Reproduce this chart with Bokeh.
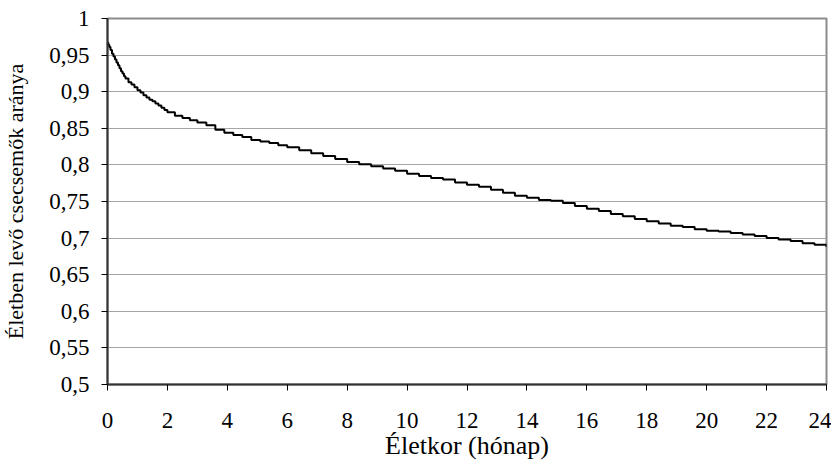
from bokeh.plotting import figure
from bokeh.models import Range1d, FixedTicker
from bokeh.embed import file_html
from bokeh.resources import INLINE

# Survival curve (months, proportion alive)
months = [0, 0.03, 0.06, 0.1, 0.15, 0.2, 0.25, 0.3, 0.35, 0.4, 0.45, 0.5, 0.55, 0.6,
          0.7, 0.8, 0.9, 1.0, 1.1, 1.2, 1.3, 1.4, 1.5, 1.6, 1.7, 1.8, 1.9,
          2.0, 2.25, 2.5, 2.75, 3.0, 3.3, 3.6, 3.9, 4.2, 4.5, 4.8, 5.1, 5.4, 5.7,
          6.0, 6.4, 6.8, 7.2, 7.6, 8.0, 8.4, 8.8, 9.2, 9.6, 10.0, 10.4, 10.8, 11.2,
          11.6, 12.0, 12.4, 12.8, 13.2, 13.6, 14.0, 14.4, 14.8, 15.2, 15.6, 16.0,
          16.4, 16.8, 17.2, 17.6, 18.0, 18.4, 18.8, 19.2, 19.6, 20.0, 20.4, 20.8,
          21.2, 21.6, 22.0, 22.4, 22.8, 23.2, 23.6, 24.0]
survival = [0.967, 0.964, 0.961, 0.957, 0.952, 0.948, 0.944, 0.940, 0.936, 0.932,
            0.928, 0.925, 0.921, 0.918, 0.913, 0.910, 0.906, 0.902, 0.899, 0.895,
            0.892, 0.889, 0.887, 0.884, 0.881, 0.878, 0.875,
            0.872, 0.867, 0.864, 0.861, 0.858,
            0.854, 0.848, 0.844, 0.841, 0.838, 0.834, 0.832, 0.830, 0.827, 0.824,
            0.820, 0.816, 0.812, 0.808, 0.804, 0.801, 0.798, 0.795, 0.792, 0.788,
            0.785, 0.782, 0.780, 0.776, 0.773, 0.770, 0.766, 0.762, 0.758, 0.755,
            0.752, 0.751, 0.748, 0.744, 0.740, 0.737, 0.733, 0.730, 0.726, 0.723,
            0.720, 0.717, 0.715, 0.712, 0.710, 0.709, 0.707, 0.705, 0.703, 0.700,
            0.698, 0.696, 0.693, 0.691, 0.688]

x_ticks = [0, 2, 4, 6, 8, 10, 12, 14, 16, 18, 20, 22, 24]
y_ticks = [0.5, 0.55, 0.6, 0.65, 0.7, 0.75, 0.8, 0.85, 0.9, 0.95, 1.0]
y_tick_labels = ["0,5", "0,55", "0,6", "0,65", "0,7", "0,75", "0,8", "0,85", "0,9", "0,95", "1"]

x_label = "Életkor (hónap)"
y_label = "Életben levő csecsemők aránya"

FONT = "Liberation Serif"

p = figure(width=831, height=464, output_backend="svg", toolbar_location=None,
           x_range=Range1d(0, 24), y_range=Range1d(0.5, 1.0),
           min_border_left=107, min_border_right=5, min_border_top=18, min_border_bottom=80)

p.step(months, survival, mode="after", line_color="black", line_width=2)

p.background_fill_color = "white"
p.border_fill_color = "white"
p.outline_line_color = "#8c8c8c"
p.outline_line_width = 2

p.xgrid.visible = False
p.ygrid.ticker = FixedTicker(ticks=y_ticks)
p.ygrid.grid_line_color = "#a6a6a6"
p.ygrid.grid_line_width = 1

p.xaxis.ticker = FixedTicker(ticks=x_ticks)
p.yaxis.ticker = FixedTicker(ticks=y_ticks)
p.yaxis.major_label_overrides = {t: l for t, l in zip(y_ticks, y_tick_labels)}

for ax in (p.xaxis, p.yaxis):
    ax.axis_line_color = "#333333"
    ax.axis_line_width = 2
    ax.major_tick_line_color = "black"
    ax.major_tick_in = 0
    ax.major_tick_out = 6
    ax.minor_tick_line_color = None
    ax.major_label_text_font = FONT
    ax.major_label_text_font_size = "23px"
    ax.major_label_text_color = "black"
    ax.axis_label_text_font = FONT
    ax.axis_label_text_font_style = "normal"
    ax.axis_label_text_color = "black"

p.xaxis.axis_label = x_label
p.yaxis.axis_label = y_label
p.xaxis.axis_label_text_font_size = "26px"
p.yaxis.axis_label_text_font_size = "22px"
p.xaxis.major_label_standoff = 22
p.xaxis.axis_label_standoff = 0
p.yaxis.major_label_standoff = 12
p.yaxis.axis_label_standoff = 18

open("out.html", "w").write(file_html(p, INLINE))
